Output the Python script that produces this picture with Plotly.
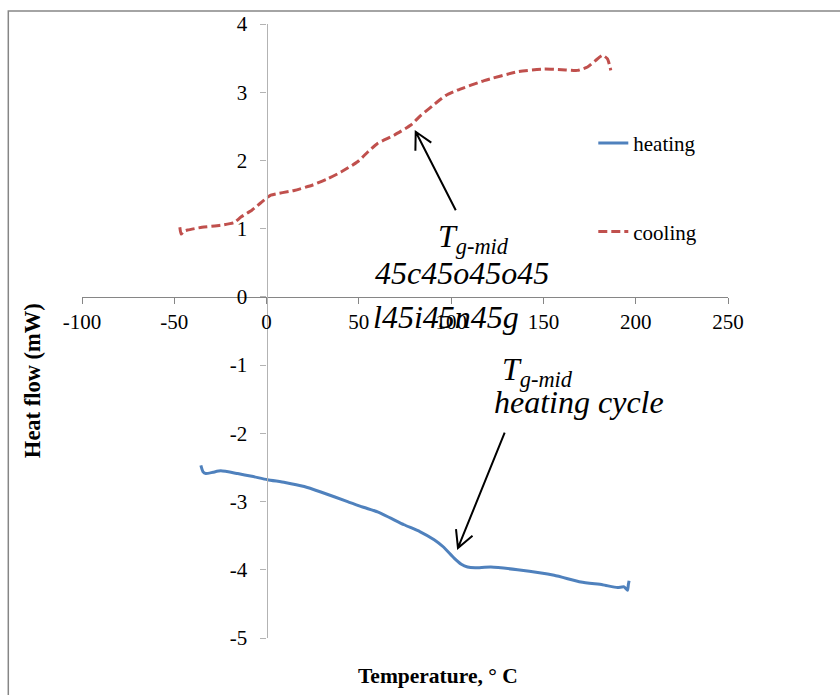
import math
import plotly.graph_objects as go

# DSC scan: temperature (deg C) vs heat flow (mW)
heating_temp = [-35.6, -34.5, -32.9, -29.0, -24.8, -15.7, -8.0, 0.5, 10.0, 20.4,
                29.4, 43.9, 52.0, 60.1, 67.0, 74.5, 83.0, 90.8, 96.0, 101.6,
                105.5, 108.9, 113.0, 121.5, 136.0, 155.8, 170.3, 182.0, 190.1,
                193.7, 195.6, 196.0, 196.4]
heating_flow = [-2.47, -2.56, -2.59, -2.57, -2.55, -2.59, -2.63, -2.68, -2.72, -2.78,
                -2.86, -3.00, -3.08, -3.15, -3.24, -3.34, -3.44, -3.56, -3.67, -3.83,
                -3.92, -3.96, -3.97, -3.96, -4.00, -4.08, -4.18, -4.22, -4.26,
                -4.25, -4.30, -4.22, -4.16]

cooling_temp = [-47.0, -46.3, -45.0, -42.8, -35.0, -25.0, -17.5, -13.9, -8.0, -3.1,
                2.3, 15.0, 25.0, 33.0, 40.3, 49.3, 54.7, 60.1, 69.1, 78.2,
                83.6, 92.6, 97.0, 103.4, 117.9, 136.0, 150.4, 160.0, 168.5, 173.9,
                178.0, 182.0, 184.7, 186.5]
cooling_flow = [1.02, 0.92, 0.96, 0.98, 1.02, 1.05, 1.09, 1.17, 1.27, 1.38,
                1.49, 1.56, 1.64, 1.73, 1.83, 1.98, 2.12, 2.25, 2.37, 2.52,
                2.66, 2.86, 2.95, 3.03, 3.17, 3.30, 3.34, 3.33, 3.32, 3.37,
                3.46, 3.54, 3.49, 3.32]

x_tick_vals = [-100, -50, 0, 50, 100, 150, 200, 250]
x_tick_text = ["-100", "-50", "0", "50", "100", "150", "200", "250"]
y_tick_vals = [-5, -4, -3, -2, -1, 0, 1, 2, 3, 4]
y_tick_text = ["-5", "-4", "-3", "-2", "-1", "0", "1", "2", "3", "4"]

X_RANGE = [-100, 250]
Y_RANGE = [-5, 4]

W, H = 840, 695
ML, MR, MT, MB = 81.7, 112.3, 24, 56.7
PLOT_W = W - ML - MR
PLOT_H = H - MT - MB
SX = PLOT_W / (X_RANGE[1] - X_RANGE[0])   # px per deg C
SY = PLOT_H / (Y_RANGE[1] - Y_RANGE[0])   # px per mW

SERIF = "Liberation Serif"


def arrow_path(tail, tip, arm_px=19, half_angle_deg=28):
    """Straight arrow with an open V head, built in data units."""
    dx = (tail[0] - tip[0]) * SX
    dy = (tail[1] - tip[1]) * SY
    n = math.hypot(dx, dy)
    ux, uy = dx / n, dy / n
    pts = []
    for s in (1, -1):
        a = math.radians(half_angle_deg) * s
        rx = ux * math.cos(a) - uy * math.sin(a)
        ry = ux * math.sin(a) + uy * math.cos(a)
        pts.append((tip[0] + rx * arm_px / SX, tip[1] + ry * arm_px / SY))
    return (f"M{tail[0]},{tail[1]} L{tip[0]},{tip[1]} "
            f"M{pts[0][0]},{pts[0][1]} L{tip[0]},{tip[1]} L{pts[1][0]},{pts[1][1]}")


fig = go.Figure()
fig.add_trace(go.Scatter(
    x=heating_temp, y=heating_flow, mode="lines", name="heating",
    legendgroup="h",
    line=dict(color="#4F81BD", width=3, shape="spline", smoothing=0.5)))
fig.add_trace(go.Scatter(
    x=cooling_temp, y=cooling_flow, mode="lines", name="cooling",
    legendgroup="c",
    line=dict(color="#C0504D", width=3, dash="9px,4px",
              shape="spline", smoothing=0.5)))

# Tg-mid pointers
fig.add_shape(type="path", xref="x", yref="y",
              path=arrow_path((102.5, 1.27), (80.8, 2.42)),
              line=dict(color="black", width=2))
fig.add_shape(type="path", xref="x", yref="y",
              path=arrow_path((129.0, -1.99), (103.7, -3.68)),
              line=dict(color="black", width=2))

# outer chart frame
fig.add_shape(type="rect", xref="paper", yref="paper",
              x0=(8 - ML) / PLOT_W, x1=1.3,
              y0=-0.2, y1=(H - MB - 11) / PLOT_H,
              line=dict(color="#868686", width=1.5), layer="above")

italic = dict(family=SERIF, size=32, color="black")
notes = [
    (112.3, 0.86, "<i>T<sub>g-mid</sub></i>"),
    (105.8, 0.35, "<i>45c45o45o45</i>"),
    (97.1, -0.30, "<i>l45i45n45g</i>"),
    (147.0, -1.10, "<i>T<sub>g-mid</sub></i>"),
    (169.2, -1.54, "<i>heating cycle</i>"),
]
for x, y, t in notes:
    fig.add_annotation(x=x, y=y, xref="x", yref="y", text=t, showarrow=False,
                       font=italic, xanchor="center", yanchor="middle")

fig.add_annotation(x=(33 - ML) / PLOT_W, y=(H - MB - 381) / PLOT_H,
                   xref="paper", yref="paper", text="<b>Heat flow (mW)</b>",
                   textangle=-90, showarrow=False,
                   font=dict(family=SERIF, size=22.5, color="black"),
                   xanchor="center", yanchor="middle")
fig.add_annotation(x=(438 - ML) / PLOT_W, y=(H - MB - 676) / PLOT_H,
                   xref="paper", yref="paper", text="<b>Temperature, ° C</b>",
                   showarrow=False,
                   font=dict(family=SERIF, size=21.5, color="black"),
                   xanchor="center", yanchor="middle")

tick_font = dict(family=SERIF, size=21, color="black")
fig.update_xaxes(
    range=X_RANGE, tickvals=x_tick_vals, ticktext=x_tick_text,
    anchor="free", position=(0 - Y_RANGE[0]) / (Y_RANGE[1] - Y_RANGE[0]),
    showline=True, linecolor="#868686", linewidth=1.3,
    ticks="outside", ticklen=6, tickcolor="#868686", tickwidth=1.3,
    showgrid=False, zeroline=False, tickfont=tick_font)
fig.update_yaxes(
    range=Y_RANGE, tickvals=y_tick_vals, ticktext=y_tick_text,
    anchor="free", position=(0 - X_RANGE[0]) / (X_RANGE[1] - X_RANGE[0]),
    showline=True, linecolor="#B3B3B3", linewidth=1.3,
    ticks="outside", ticklen=6, tickcolor="#B3B3B3", tickwidth=1.3,
    ticklabelstandoff=9,
    showgrid=False, zeroline=False, tickfont=tick_font)

fig.update_layout(
    width=W, height=H,
    font=dict(family=SERIF, color="black"),
    margin=dict(l=ML, r=MR, t=MT, b=MB, pad=0),
    paper_bgcolor="white", plot_bgcolor="white",
    showlegend=True,
    legend=dict(x=(593 - ML) / PLOT_W, y=(H - MB - 123) / PLOT_H,
                xanchor="left", yanchor="top",
                traceorder="grouped", tracegroupgap=58,
                font=dict(family=SERIF, size=21, color="black"),
                bgcolor="rgba(0,0,0,0)"),
)

fig.write_html("out.html")
